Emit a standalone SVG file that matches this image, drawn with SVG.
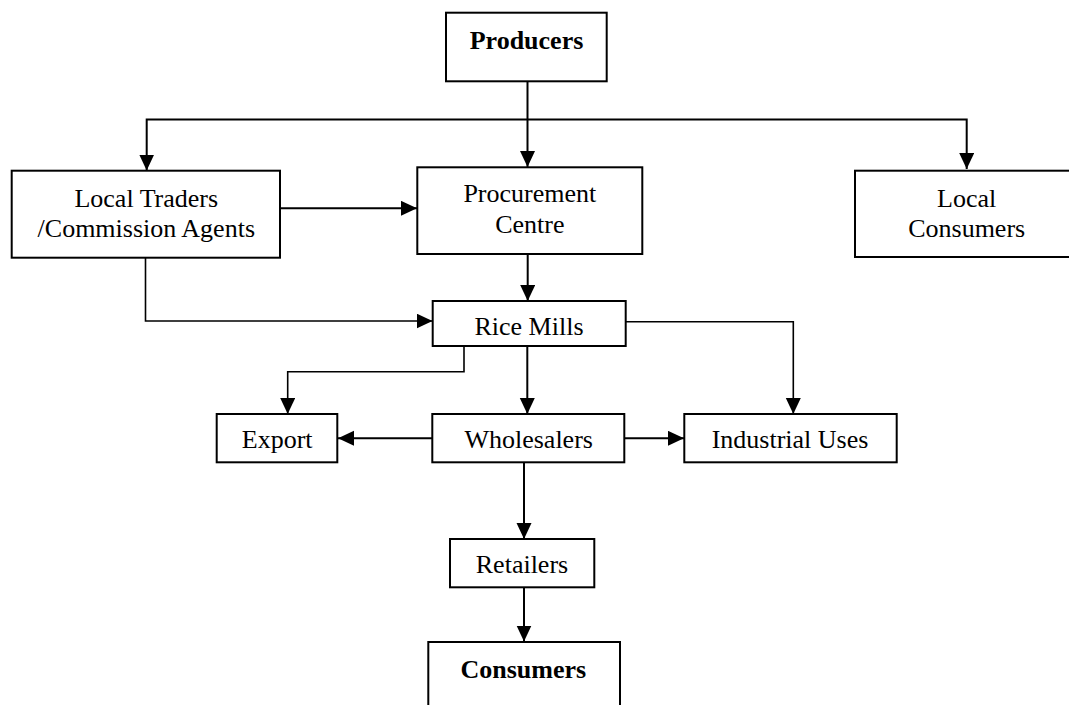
<svg xmlns="http://www.w3.org/2000/svg" width="1069" height="705" viewBox="0 0 1069 705">
<style>
.box{fill:#fff;stroke:#000;stroke-width:2}
.t{font-family:"Liberation Serif","Times New Roman",serif;font-size:26px;fill:#000;text-anchor:middle}
.b{font-weight:bold}
.c{fill:none;stroke:#000;stroke-width:2}
.thin{stroke-width:1.6}
</style>
<defs>
<marker id="ah" markerUnits="userSpaceOnUse" markerWidth="16" markerHeight="16" refX="16" refY="7.5" orient="auto">
<path d="M0,0 L16,7.5 L0,15 z" fill="#000"/>
</marker>
</defs>
<rect width="1069" height="705" fill="#fff"/>
<g id="connectors">
<path class="c" d="M527.5,81 V167" marker-end="url(#ah)"/>
<path class="c" d="M527.5,119.5 H146.7 V170.5" marker-end="url(#ah)"/>
<path class="c" d="M527.5,119.5 H966.7 V169" marker-end="url(#ah)"/>
<path class="c" d="M280,208.3 H417" marker-end="url(#ah)"/>
<path class="c thin" d="M145.5,257.7 V321 H432.5" marker-end="url(#ah)"/>
<path class="c" d="M527.7,254 V301" marker-end="url(#ah)"/>
<path class="c thin" d="M464,346 V371.7 H287.7 V414" marker-end="url(#ah)"/>
<path class="c" d="M527.3,346 V414" marker-end="url(#ah)"/>
<path class="c thin" d="M625.7,321.7 H793.3 V414" marker-end="url(#ah)"/>
<path class="c" d="M432,438.3 H338" marker-end="url(#ah)"/>
<path class="c" d="M624.3,438.3 H684" marker-end="url(#ah)"/>
<path class="c" d="M524,462.3 V539" marker-end="url(#ah)"/>
<path class="c" d="M524,587.3 V641.5" marker-end="url(#ah)"/>
</g>
<g id="producers">
<rect class="box" x="446" y="12.7" width="160.7" height="68.6"/>
<text class="t b" x="526.5" y="49">Producers</text>
</g>
<g id="local-traders">
<rect class="box" x="11.7" y="170.7" width="268.3" height="87"/>
<text class="t" x="146.3" y="206.7">Local Traders</text>
<text class="t" x="146.3" y="237.3">/Commission Agents</text>
</g>
<g id="procurement">
<rect class="box" x="417.3" y="167.3" width="225" height="86.7"/>
<text class="t" x="529.8" y="201.7">Procurement</text>
<text class="t" x="529.8" y="233.3">Centre</text>
</g>
<g id="local-consumers">
<rect class="box" x="855" y="170.7" width="223" height="86.3"/>
<text class="t" x="966.7" y="206.7">Local</text>
<text class="t" x="966.7" y="237">Consumers</text>
</g>
<g id="rice-mills">
<rect class="box" x="432.7" y="301" width="193" height="45"/>
<text class="t" x="529" y="335">Rice Mills</text>
</g>
<g id="export">
<rect class="box" x="216.7" y="414" width="120.6" height="48.3"/>
<text class="t" x="277.2" y="448">Export</text>
</g>
<g id="wholesalers">
<rect class="box" x="432.3" y="414" width="192" height="48.3"/>
<text class="t" x="528.7" y="448.3">Wholesalers</text>
</g>
<g id="industrial-uses">
<rect class="box" x="684.3" y="414" width="212.4" height="48.3"/>
<text class="t" x="790" y="448.3">Industrial Uses</text>
</g>
<g id="retailers">
<rect class="box" x="450" y="539" width="144.3" height="48.3"/>
<text class="t" x="522" y="573.3">Retailers</text>
</g>
<g id="consumers">
<rect class="box" x="428.3" y="642" width="191.7" height="80"/>
<text class="t b" x="523.3" y="678.3">Consumers</text>
</g>
</svg>
